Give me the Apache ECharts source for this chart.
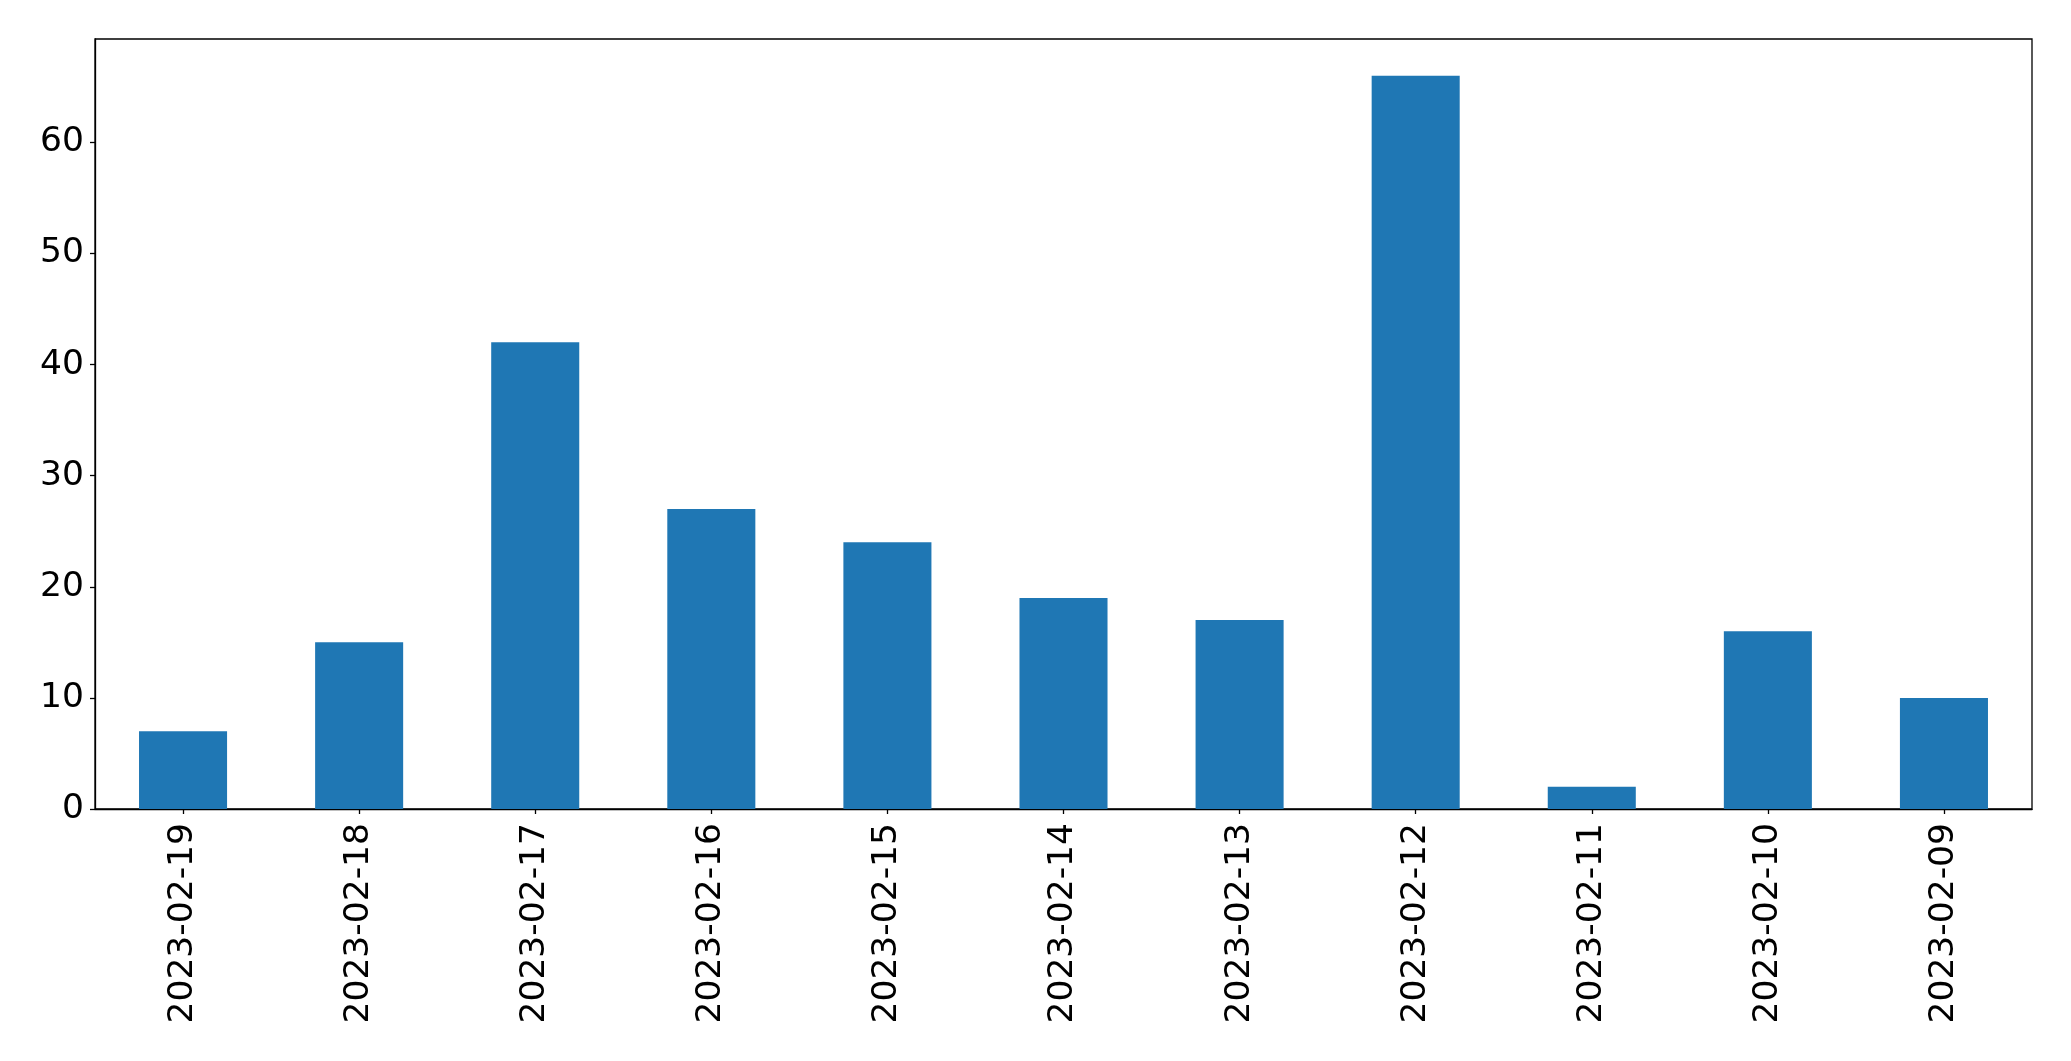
<!DOCTYPE html>
<html>
<head>
<meta charset="utf-8">
<script src="https://cdn.jsdelivr.net/npm/echarts@6/dist/echarts.min.js"></script>
<style>
html,body{margin:0;padding:0;background:#fff;}
#chart{width:2071px;height:1061px;}
</style>
</head>
<body>
<div id="chart"></div>
<script>
const categories = ["2023-02-19","2023-02-18","2023-02-17","2023-02-16","2023-02-15","2023-02-14","2023-02-13","2023-02-12","2023-02-11","2023-02-10","2023-02-09"];
const values = [7, 15, 42, 27, 24, 19, 17, 66, 2, 16, 10];
const yTicks = [0, 10, 20, 30, 40, 50, 60];

const chart = echarts.init(document.getElementById('chart'), null, {renderer: 'canvas'});
const font = "'DejaVu Sans', sans-serif";
chart.setOption({
  animation: false,
  backgroundColor: '#fff',
  grid: {left: 95, right: 39, top: 39, bottom: 252, show: true, borderColor: '#000', borderWidth: 1.3, backgroundColor: 'transparent'},
  xAxis: {
    type: 'category',
    data: categories,
    axisLine: {show: true, lineStyle: {color: '#000', width: 1.3}},
    axisTick: {show: true, alignWithLabel: true, length: 5, lineStyle: {color: '#000', width: 1.3}},
    axisLabel: {rotate: 90, fontSize: 34.5, fontFamily: font, color: '#000', margin: 14, interval: 0}
  },
  yAxis: {
    type: 'value',
    min: 0, max: 69.3, interval: 10,
    splitLine: {show: false},
    axisLine: {show: true, lineStyle: {color: '#000', width: 1.3}},
    axisTick: {show: true, length: 5, lineStyle: {color: '#000', width: 1.3}, customValues: yTicks},
    axisLabel: {fontSize: 34.5, fontFamily: font, color: '#000', margin: 11, customValues: yTicks}
  },
  series: [{
    type: 'bar',
    data: values,
    barWidth: '50%',
    itemStyle: {color: '#1f77b4'}
  }]
});
</script>
</body>
</html>
